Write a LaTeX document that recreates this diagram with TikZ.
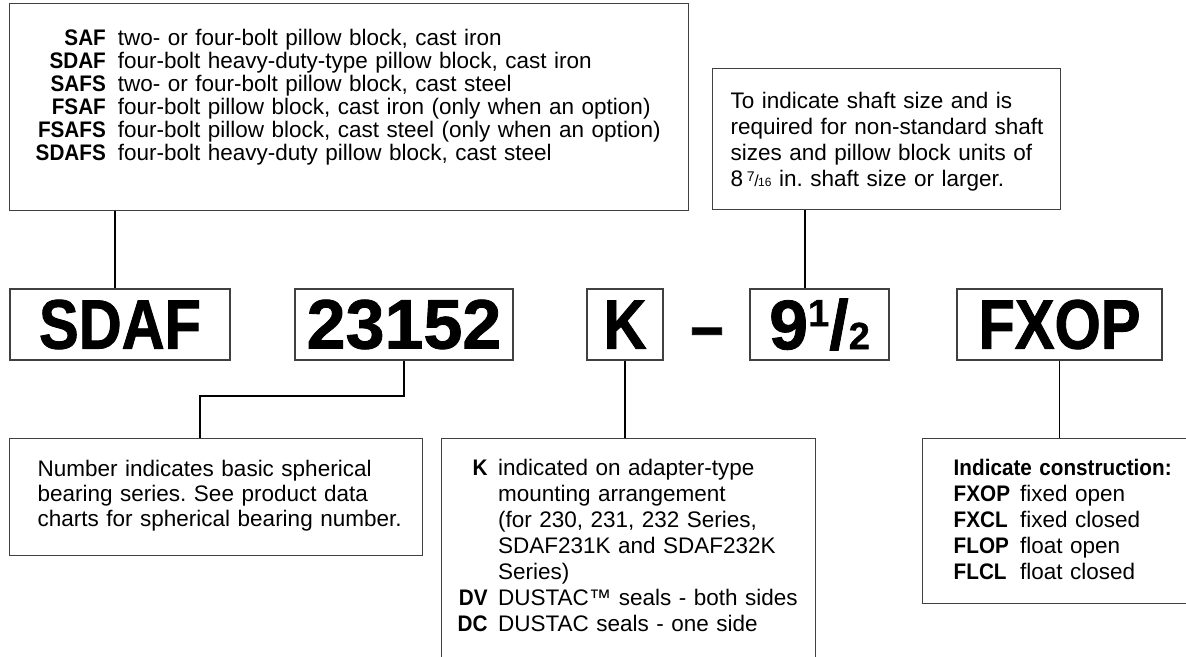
\documentclass[tikz,border=0pt]{standalone}
\usepackage{fontspec}
\usepackage{array}
\setmainfont{Liberation Sans}
\newfontfamily\narrowfont[FakeStretch=0.85,FakeBold=1.2]{Liberation Sans}
\newfontfamily\digitfont[FakeBold=1.2]{Liberation Sans}
\newfontfamily\codefont[FakeStretch=0.92]{Liberation Sans}
\frenchspacing

\begin{document}
\begin{tikzpicture}[x=1pt,y=-1pt,
  box/.style={draw=black!75,line width=1.4pt,inner ysep=0pt,anchor=north west,font=\fontsize{22.5}{26}\selectfont},
  code/.style={draw=black!75,line width=1.4pt,inner sep=0pt,minimum height=71pt,font=\fontsize{70}{70}\selectfont\bfseries},
  link/.style={line width=1.3pt}]
\useasboundingbox (0,0) rectangle (1186,656);
\clip (0,0) rectangle (1186,656);

\node[box,inner xsep=26pt,text width=627pt,text height=42pt,text depth=165pt,font=\fontsize{22.5}{22}\selectfont] (type) at (9,3) {%
\begin{tabular}[t]{@{}>{\codefont\bfseries}r@{\hspace{12pt}}l@{}}
SAF & two- or four-bolt pillow block, cast iron\\
SDAF & four-bolt heavy-duty-type pillow block, cast iron\\
SAFS & two- or four-bolt pillow block, cast steel\\
FSAF & four-bolt pillow block, cast iron (only when an option)\\
FSAFS & four-bolt pillow block, cast steel (only when an option)\\
SDAFS & four-bolt heavy-duty pillow block, cast steel
\end{tabular}};
\node[box,inner xsep=18pt,text width=312pt,text height=40pt,text depth=101pt] (size) at (712,68) {%
\begin{tabular}[t]{@{}l@{}}
To indicate shaft size and is\\
required for non-standard shaft\\
sizes and pillow block units of\\
8\,{\fontsize{14}{14}\selectfont\raisebox{5pt}{7}}\kern-.5pt{\fontsize{16}{16}\selectfont/}\kern-.5pt{\fontsize{12}{12}\selectfont 16} in. shaft size or larger.
\end{tabular}};

\node[code,minimum width=220pt] (sdaf) at (120,324.5) {\narrowfont SDAF};
\node[code,minimum width=218pt] (series) at (404,324.5) {\digitfont 23152};
\node[code,minimum width=76pt] (k) at (625,324.5) {\narrowfont K};
\node[font=\fontsize{70}{70}\selectfont\bfseries\narrowfont,anchor=base,inner sep=0pt] (dash) at (707,350) {–};
\node[code,minimum width=139pt] (shaft) at (819.5,324.5) {\digitfont 9\raisebox{23pt}{\fontsize{38}{38}\selectfont 1}/{\fontsize{38}{38}\selectfont 2}};
\node[code,minimum width=205pt] (constr) at (1059.5,324.5) {\narrowfont FXOP};

\node[box,inner xsep=28pt,text width=357pt,text height=38pt,text depth=79pt,font=\fontsize{22.5}{25}\selectfont] (note) at (9,438) {%
\begin{tabular}[t]{@{}l@{}}
Number indicates basic spherical\\
bearing series. See product data\\
charts for spherical bearing number.
\end{tabular}};
\node[box,inner xsep=16pt,text width=342pt,text height=37pt,text depth=187pt] (kbox) at (441,438) {%
\begin{tabular}[t]{@{}>{\codefont\bfseries}r@{\hspace{10.5pt}}l@{}}
K & indicated on adapter-type\\
 & mounting arrangement\\
 & (for 230, 231, 232 Series,\\
 & SDAF231K and SDAF232K\\
 & Series)\\
DV & DUSTAC™ seals - both sides\\
DC & DUSTAC seals - one side
\end{tabular}};
\node[box,inner xsep=31pt,text width=260pt,text height=37pt,text depth=128pt] (conbox) at (922,438) {%
\begin{tabular}[t]{@{}>{\codefont\bfseries}l@{\hspace{10pt}}l@{}}
\multicolumn{2}{@{}l@{}}{\codefont\bfseries Indicate construction:}\\
FXOP & fixed open\\
FXCL & fixed closed\\
FLOP & float open\\
FLCL & float closed
\end{tabular}};

\coordinate (elbow) at (200,396);
\draw[link] (sdaf.north) ++(-5,0) coordinate (a) -- (a |- type.south);
\draw[link] (shaft.north) ++(-14.5,0) coordinate (b) -- (b |- size.south);
\draw[link] (series.south) |- (elbow) -- (elbow |- note.north);
\draw[link] (k.south) -- (k.south |- kbox.north);
\draw[link] (constr.south) -- (constr.south |- conbox.north);
\end{tikzpicture}
\end{document}
